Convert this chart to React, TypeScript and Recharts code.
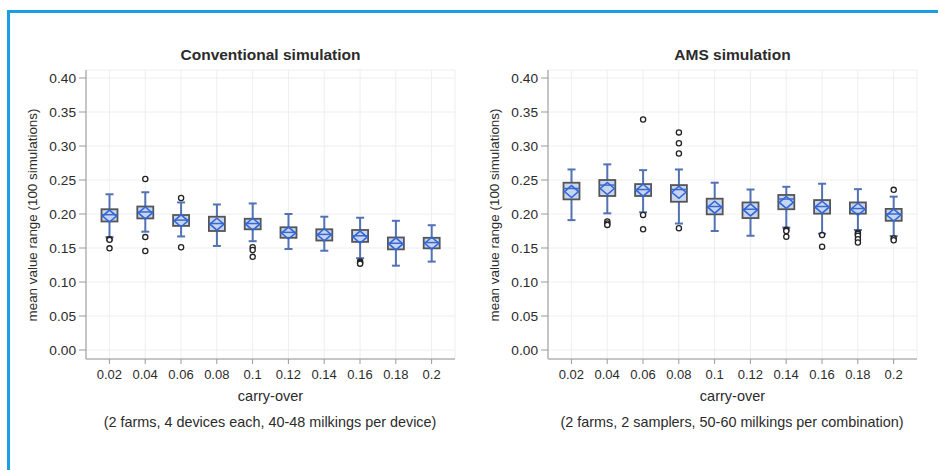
import { ComposedChart, Bar, XAxis, YAxis, CartesianGrid } from 'recharts'

const CATEGORIES = ['0.02', '0.04', '0.06', '0.08', '0.1', '0.12', '0.14', '0.16', '0.18', '0.2']
const Y_TICKS = [0, 0.05, 0.1, 0.15, 0.2, 0.25, 0.3, 0.35, 0.4]

// Conventional simulation
const CONV_LOW = [0.166, 0.174, 0.167, 0.153, 0.16, 0.1485, 0.146, 0.135, 0.124, 0.13]
const CONV_Q1 = [0.189, 0.1935, 0.1825, 0.175, 0.1775, 0.165, 0.161, 0.159, 0.148, 0.1495]
const CONV_MEDIAN = [0.199, 0.203, 0.191, 0.186, 0.186, 0.173, 0.17, 0.168, 0.157, 0.158]
const CONV_Q3 = [0.207, 0.211, 0.1985, 0.196, 0.193, 0.1805, 0.1775, 0.1765, 0.1655, 0.165]
const CONV_HIGH = [0.229, 0.232, 0.217, 0.214, 0.2155, 0.2, 0.196, 0.1945, 0.19, 0.1835]
const CONV_MEAN = [0.197, 0.2015, 0.19, 0.185, 0.185, 0.172, 0.1695, 0.166, 0.156, 0.157]
const CONV_OUTLIERS = [
    [0.163, 0.162, 0.1495],
    [0.2515, 0.166, 0.1455],
    [0.2235, 0.151],
    [],
    [0.151, 0.147, 0.137],
    [],
    [],
    [0.13, 0.128, 0.127],
    [],
    [],
]

// AMS simulation
const AMS_LOW = [0.191, 0.201, 0.2025, 0.186, 0.175, 0.168, 0.18, 0.171, 0.1765, 0.1675]
const AMS_Q1 = [0.2215, 0.2265, 0.2265, 0.218, 0.1995, 0.194, 0.207, 0.2005, 0.2005, 0.19]
const AMS_MEDIAN = [0.2375, 0.2425, 0.236, 0.236, 0.211, 0.207, 0.222, 0.211, 0.208, 0.2]
const AMS_Q3 = [0.246, 0.25, 0.244, 0.2425, 0.2225, 0.217, 0.228, 0.2205, 0.217, 0.2075]
const AMS_HIGH = [0.2655, 0.273, 0.2645, 0.2655, 0.246, 0.236, 0.24, 0.2445, 0.2365, 0.2255]
const AMS_MEAN = [0.233, 0.2375, 0.235, 0.232, 0.21, 0.206, 0.217, 0.21, 0.207, 0.1985]
const AMS_OUTLIERS = [
    [],
    [0.189, 0.186, 0.184],
    [0.339, 0.1985, 0.1775],
    [0.32, 0.304, 0.289, 0.179],
    [],
    [],
    [0.177, 0.175, 0.1665],
    [0.169, 0.152],
    [0.1725, 0.1705, 0.168, 0.163, 0.158],
    [0.2355, 0.164, 0.1615],
]

const FONT = "'Liberation Sans', Arial, sans-serif"
const TEXT = '#2b2b2b'
const FRAME = '#b4b4b4'

function buildRows(low: number[], q1: number[], med: number[], q3: number[], high: number[], mean: number[], out: number[][]) {
    return CATEGORIES.map((cat, i) => ({
        cat,
        low: low[i],
        q1: q1[i],
        median: med[i],
        q3: q3[i],
        high: high[i],
        mean: mean[i],
        outliers: out[i],
    }))
}

// whole box plot drawn inside the bar that spans low..high whisker
function BoxShape(props: any) {
    const { x, y, width, height, payload } = props
    if (!payload || !height) return null
    const top = Math.min(y, y + height)
    const h = Math.abs(height)
    const k = h / (payload.high - payload.low)
    const py = (v: number) => top + (payload.high - v) * k
    const cx = x + width / 2
    const half = width / 2
    const cap = 4
    const my = py(payload.mean)
    return (
        <g>
            <line x1={cx} x2={cx} y1={py(payload.high)} y2={py(payload.low)} stroke="#5272b4" strokeWidth={2} />
            <line x1={cx - cap} x2={cx + cap} y1={py(payload.high)} y2={py(payload.high)} stroke="#5272b4" strokeWidth={2} />
            <line x1={cx - cap} x2={cx + cap} y1={py(payload.low)} y2={py(payload.low)} stroke="#5272b4" strokeWidth={2} />
            <rect
                x={cx - half}
                y={py(payload.q3)}
                width={width}
                height={py(payload.q1) - py(payload.q3)}
                fill="#c8d5ee"
                stroke="#555"
                strokeWidth={1.8}
            />
            <line x1={cx - half} x2={cx + half} y1={py(payload.median)} y2={py(payload.median)} stroke="#3d68c8" strokeWidth={1.5} />
            <polygon
                points={`${cx - 7},${my} ${cx},${my - 6} ${cx + 7},${my} ${cx},${my + 6}`}
                fill="none"
                stroke="#2f67dc"
                strokeWidth={1.6}
            />
            {payload.outliers.map((v: number, i: number) => (
                <circle key={i} cx={cx} cy={py(v)} r={2.6} fill="#fff" stroke="#222" strokeWidth={1.3} />
            ))}
        </g>
    )
}

function Panel({ left, title, note, rows }: { left: number; title: string; note: string; rows: any[] }) {
    return (
        <div style={{ position: 'absolute', left, top: 0, width: 470, height: 470 }}>
            <ComposedChart width={470} height={470} data={rows} margin={{ top: 70, right: 15, bottom: 81, left: 26 }}>
                <CartesianGrid stroke="#eeeeee" strokeWidth={1} />
                <XAxis
                    dataKey="cat"
                    height={30}
                    padding={{ left: 5.5, right: 5.5 }}
                    tickSize={5}
                    tickMargin={6}
                    tick={{ fill: TEXT, fontSize: 13, fontFamily: FONT }}
                    tickLine={{ stroke: '#999' }}
                    axisLine={{ stroke: FRAME, strokeWidth: 1.5 }}
                />
                <XAxis xAxisId="top" orientation="top" dataKey="cat" height={0} tick={false} tickLine={false} axisLine={{ stroke: FRAME, strokeWidth: 1.5 }} />
                <YAxis
                    type="number"
                    domain={[0, 0.4]}
                    ticks={Y_TICKS}
                    padding={{ top: 8, bottom: 9 }}
                    width={60}
                    tickSize={7}
                    tickMargin={3}
                    tickFormatter={(v: number) => v.toFixed(2)}
                    tick={{ fill: TEXT, fontSize: 13.7, fontFamily: FONT }}
                    tickLine={{ stroke: '#999' }}
                    axisLine={{ stroke: FRAME, strokeWidth: 1.5 }}
                />
                <YAxis yAxisId="right" orientation="right" width={0} tick={false} tickLine={false} axisLine={{ stroke: FRAME, strokeWidth: 1.5 }} />
                <Bar dataKey={(d: any) => [d.low, d.high]} barSize={16} shape={BoxShape} isAnimationActive={false} />
            </ComposedChart>
            <div style={{ position: 'absolute', left: 86, width: 369, top: 46, textAlign: 'center', fontFamily: FONT, fontWeight: 'bold', fontSize: 15.5, color: TEXT }}>
                {title}
            </div>
            <div style={{ position: 'absolute', left: 32, top: 214.5, transform: 'translate(-50%, -50%) rotate(-90deg)', whiteSpace: 'nowrap', fontFamily: FONT, fontSize: 13.4, color: TEXT }}>
                mean value range (100 simulations)
            </div>
            <div style={{ position: 'absolute', left: 86, width: 369, top: 388, textAlign: 'center', fontFamily: FONT, fontSize: 14.5, color: TEXT }}>
                carry-over
            </div>
            <div style={{ position: 'absolute', left: 40, width: 460, top: 414, textAlign: 'center', fontFamily: FONT, fontSize: 14.4, color: TEXT, whiteSpace: 'nowrap' }}>
                {note}
            </div>
        </div>
    )
}

export default function App() {
    const convRows = buildRows(CONV_LOW, CONV_Q1, CONV_MEDIAN, CONV_Q3, CONV_HIGH, CONV_MEAN, CONV_OUTLIERS)
    const amsRows = buildRows(AMS_LOW, AMS_Q1, AMS_MEDIAN, AMS_Q3, AMS_HIGH, AMS_MEAN, AMS_OUTLIERS)
    return (
        <div style={{ position: 'absolute', left: 0, top: 0, width: 938, height: 470, overflow: 'hidden', background: '#fff' }}>
            <div style={{ position: 'absolute', left: 7, top: 10, width: 1000, height: 600, border: '3px solid #1a9de1' }} />
            <Panel left={0} title="Conventional simulation" note="(2 farms, 4 devices each, 40-48 milkings per device)" rows={convRows} />
            <Panel left={462} title="AMS simulation" note="(2 farms, 2 samplers, 50-60 milkings per combination)" rows={amsRows} />
        </div>
    )
}
